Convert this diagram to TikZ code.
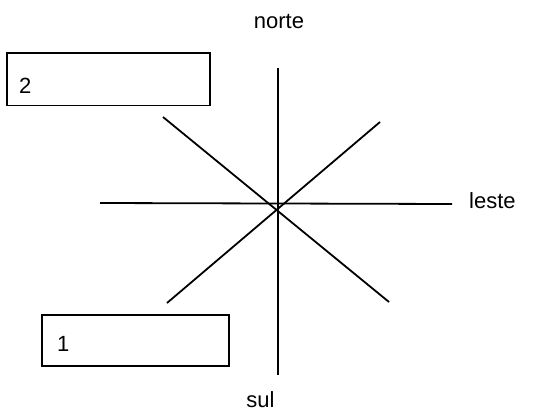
\documentclass[tikz,border=0pt]{standalone}
\usepackage{fontspec}
\setmainfont{Liberation Sans}
\begin{document}
\begin{tikzpicture}[x=1pt,y=-1pt,
  ln/.style={line width=1.8pt, black},
  box/.style={draw=black, line width=1.8pt, rectangle},
  lbl/.style={inner sep=0pt, anchor=base, font=\fontsize{22}{26}\selectfont}]
\useasboundingbox (0,0) rectangle (547,415);
% boxes
\draw[box] (7,53) rectangle (210,105.5);
\draw[box] (42,315) rectangle (229,366);
\node[lbl, anchor=base west] (t2) at (19,93) {2};
\node[lbl, anchor=base west] (t1) at (57,351) {1};
% compass lines
\coordinate (n) at (278,68);
\coordinate (s) at (278,375);
\coordinate (w) at (100,203);
\coordinate (e) at (452,204);
\coordinate (nw) at (163,117);
\coordinate (se) at (389,302);
\coordinate (ne) at (380,122);
\coordinate (sw) at (167,303);
\draw[ln] (n) -- (s);
\draw[ln] (w) -- (e);
\draw[ln] (nw) -- (se);
\draw[ln] (ne) -- (sw);
% labels
\node[lbl] (norte) at (279,28) {norte};
\node[lbl, anchor=base west] (leste) at (469,208) {leste};
\node[lbl] (sul) at (260.5,407) {sul};
\end{tikzpicture}
\end{document}
